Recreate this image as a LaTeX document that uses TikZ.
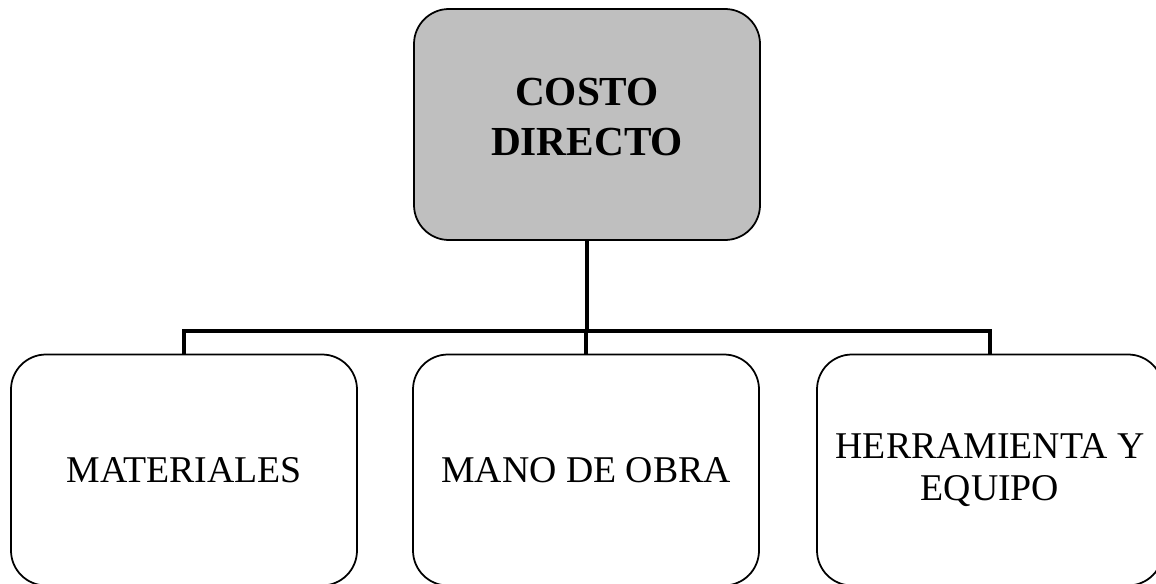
\documentclass[tikz,border=0pt]{standalone}
\usepackage{fontspec}
\setmainfont{Liberation Serif}
\usepackage{tikz}
\usetikzlibrary{positioning}

\begin{document}
\begin{tikzpicture}[box/.style={draw=black, line width=1pt, rounded corners=0.7cm,
        minimum width=6.92cm, minimum height=4.62cm, align=center,
        font=\fontsize{21.5}{23.5}\selectfont},
    topbox/.style={box, fill=black!25, text depth=0.3cm,
        font=\fontsize{23.5}{28.4}\selectfont\bfseries},
    connector/.style={line width=2.8pt}]
    \useasboundingbox (0,0) rectangle (23.12,-11.66);

    % Nodes {costo, materiales, mano, herramienta}
    \node [topbox] (costo)       at (11.74,-2.49) {COSTO\\DIRECTO};
    \node [box]    (materiales)  at (3.68,-9.40)  {MATERIALES};
    \node [box]    (mano)        at (11.72,-9.40) {MANO DE OBRA};
    \node [box]    (herramienta) at (19.80,-9.40) {HERRAMIENTA Y\\EQUIPO};
    \coordinate    (bus)         at (0,-6.62);

    % Paths
    \draw [connector] (costo.south) -- (costo.south |- bus);
    \draw [connector] (materiales.north) -- (materiales.north |- bus)
        -- (herramienta.north |- bus) -- (herramienta.north);
    \draw [connector] (mano.north) -- (mano.north |- bus);

\end{tikzpicture}
\end{document}
